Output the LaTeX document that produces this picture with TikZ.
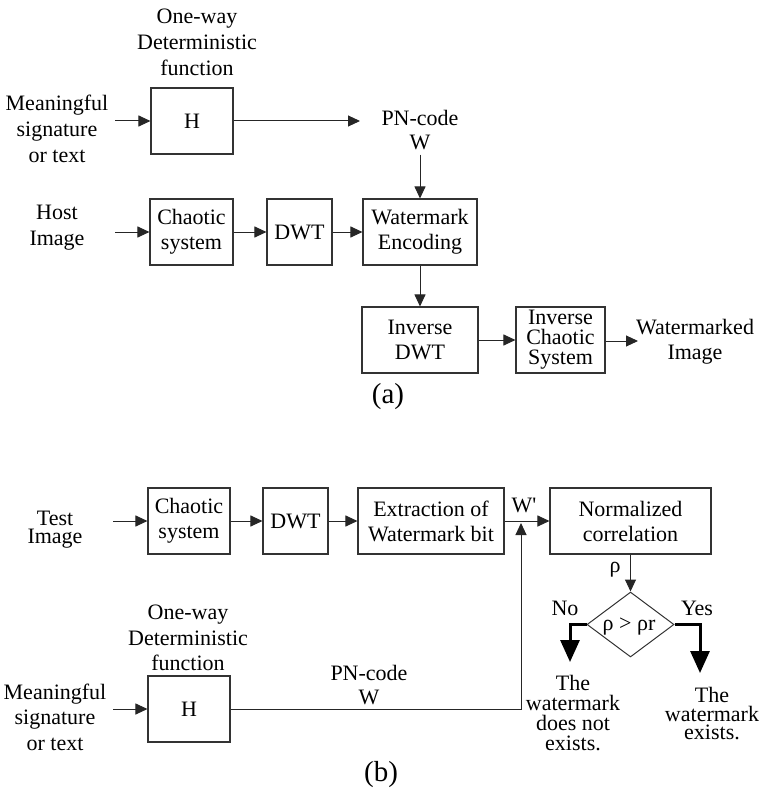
\documentclass[tikz,border=0pt]{standalone}
\usepackage{fontspec}
\setmainfont{Liberation Serif}
\newfontfamily\plainserif{Liberation Serif}
\usetikzlibrary{arrows.meta,shapes.geometric}
\tikzset{
  lbl/.style={inner sep=0pt, align=center, font=\fontsize{22}{26}\selectfont},
  blk/.style={draw=black!80, line width=1.1pt, inner sep=0pt, align=center,
              minimum height=66pt, font=\fontsize{22}{25}\selectfont},
  arr/.style={draw=black!85, line width=1pt, -{Triangle[length=12pt,width=11pt]}},
  bigarr/.style={draw=black, line width=3pt, -{Triangle[length=22pt,width=19pt]}},
  figcap/.style={inner sep=0pt, font=\fontsize{29}{32}\selectfont}
}
\begin{document}
\begin{tikzpicture}[x=1pt,y=-1pt]
\useasboundingbox (0,0) rectangle (765,794);
% ---------------- (a) ----------------
\node[lbl] (oneA) at (197,42) {One-way\\Deterministic\\function};
\node[lbl] (meanA) at (57,129) {Meaningful\\signature\\or text};
\node[blk, minimum width=82pt] (hA) at (192,121) {H};
\node[lbl] (pnA) at (420,118) {PN-code};
\node[lbl] (wA) at (420,142) {W};
\coordinate (inA) at (115,121);
\coordinate (pnin) at (360,121);
\draw[arr] (inA) -- (hA);
\draw[arr] (hA) -- (pnin);

\node[lbl] (hostA) at (57,228) {Host\\Image};
\coordinate (inH) at (115,232);
\node[blk, minimum width=83pt] (chaosA) at (191.5,232) {Chaotic\\system};
\node[blk, minimum width=65pt] (dwtA) at (299.5,232) {DWT};
\node[blk, minimum width=114pt] (wmA) at (420,232) {Watermark\\Encoding};
\draw[arr] (inH) -- (chaosA);
\draw[arr] (chaosA) -- (dwtA);
\draw[arr] (dwtA) -- (wmA);
\draw[arr, shorten <=5pt] (wA.south) -- (wmA.north);

\node[blk, minimum width=116pt] (invdwtA) at (420,340) {Inverse\\DWT};
\node[blk, minimum width=89pt, font=\fontsize{22}{20}\selectfont] (invchA) at (560.5,340) {Inverse\\Chaotic\\System};
\node[lbl, font=\fontsize{22}{25}\selectfont] (wmkA) at (695,342) {Watermarked\\Image};
\coordinate (outA) at (638,341);
\draw[arr] (wmA.south) -- (invdwtA.north);
\draw[arr] (invdwtA) -- (invchA);
\draw[arr] (invchA.east |- outA) -- (outA);
\node[figcap] (capA) at (388,397) {(a)};

% ---------------- (b) ----------------
\node[lbl, font=\fontsize{22}{18}\selectfont] (testB) at (55,530) {Test\\Image};
\coordinate (inT) at (113,521);
\node[blk, minimum width=82pt] (chaosB) at (189,521) {Chaotic\\system};
\node[blk, minimum width=65pt] (dwtB) at (295.5,521) {DWT};
\node[blk, minimum width=146pt] (extB) at (431,521) {Extraction of\\Watermark bit};
\node[blk, minimum width=161pt] (normB) at (630.5,521) {Normalized\\correlation};
\draw[arr] (inT) -- (chaosB);
\draw[arr] (chaosB) -- (dwtB);
\draw[arr] (dwtB) -- (extB);
\draw[arr] (extB) -- (normB);
\node[lbl] (wpB) at (524,505) {\plainserif W'};

\node[lbl, font=\fontsize{22}{25.5}\selectfont] (oneB) at (188,638) {One-way\\Deterministic\\function};
\node[lbl, font=\fontsize{22}{25.5}\selectfont] (meanB) at (55,717) {Meaningful\\signature\\or text};
\node[blk, minimum width=82pt] (hB) at (189,709) {H};
\coordinate (inM) at (113,709);
\draw[arr] (inM) -- (hB);
\node[lbl] (pnB) at (369,673) {PN-code};
\node[lbl] (wB) at (369,697) {W};
\coordinate (wjoin) at (521,523);
\draw[arr] (hB.east) -| (wjoin);

\node[lbl] (rhoB) at (615,570) {ρ};
\node[diamond, draw=black!80, line width=1pt, inner sep=0pt, aspect=1.34,
      minimum width=87pt, minimum height=65pt] (dia) at (630.5,624.5) {};
\node[lbl] (diatext) at (629,627) {ρ > ρr};
\draw[arr] (normB.south) -- (dia.north);
\node[lbl] (noB) at (565,608) {No};
\node[lbl] (yesB) at (697,608) {Yes};
\coordinate (noend) at (570,662);
\coordinate (yesend) at (700,673);
\draw[bigarr] (dia.west) -| (noend);
\draw[bigarr] (dia.east) -| (yesend);
\node[lbl, font=\fontsize{22}{20}\selectfont] (noT) at (573,713) {The\\watermark\\does not\\exists.};
\node[lbl, font=\fontsize{22}{18.5}\selectfont] (yesT) at (712,714) {The\\watermark\\exists.};
\node[figcap] (capB) at (381,775) {(b)};
\end{tikzpicture}
\end{document}
